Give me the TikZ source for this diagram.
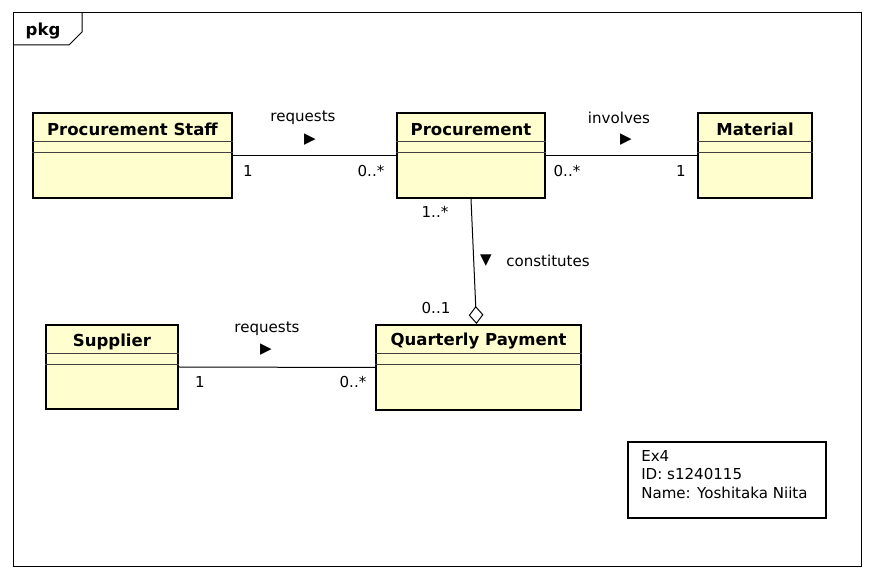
\documentclass[tikz,border=0pt]{standalone}
\usepackage{fontspec}
\setmainfont{DejaVu Sans}
\usetikzlibrary{arrows.meta,calc}
\definecolor{classfill}{HTML}{FEFECE}
\tikzset{
  x=0.75pt, y=-0.75pt,
  classbox/.style={draw=black, line width=1.5pt, fill=classfill, inner sep=0pt, rectangle},
  ctitle/.style={font=\fontsize{12.4}{14}\selectfont\bfseries, inner sep=0pt},
  lbl/.style={font=\fontsize{11.3}{13.5}\selectfont, inner sep=0pt},
  assoc/.style={draw=black, line width=0.75pt},
  divider/.style={line width=0.75pt, draw=black!75},
  notebox/.style={draw=black, line width=1.5pt, fill=white, inner sep=0pt, rectangle}
}
\newcommand{\umlclass}[6]{%
  \node[classbox, minimum width=#4*0.75pt, minimum height=#5*0.75pt] (#1) at (#2,#3) {};
  \node[ctitle] (#1-t) at ($(#1.north)+(0,17.5)$) {#6};
  \draw[divider] ($(#1.north west)+(0,29.5)$) -- ($(#1.north east)+(0,29.5)$);
  \draw[divider] ($(#1.north west)+(0,40.5)$) -- ($(#1.north east)+(0,40.5)$);
}
\begin{document}
\begin{tikzpicture}
\useasboundingbox (0,0) rectangle (874,580);
\fill[white] (0,0) rectangle (874,580);
% package frame
\draw[line width=0.75pt] (13,13) rectangle (861,566);
\draw[line width=0.75pt] (13,45) -- (69,45) -- (82,32) -- (82,13);
\node[ctitle] (pkg) at (43,31) {pkg};

% classes
\umlclass{ps}{132.5}{155.5}{199}{85}{Procurement Staff}
\umlclass{proc}{471}{155.5}{148}{85}{Procurement}
\umlclass{mat}{755}{155.5}{114}{85}{Material}
\umlclass{sup}{112}{367}{132}{84}{Supplier}
\umlclass{qp}{478.5}{367.5}{205}{85}{Quarterly Payment}

% associations
\draw[assoc] (ps.east) -- (proc.west);
\node[lbl] (l1) at (303,118) {requests};
\node[lbl] (a1) at (310,140) {▶};
\node[lbl] (m1a) at (248,171) {1};
\node[lbl] (m1b) at (371,171) {0..*};

\draw[assoc] (proc.east) -- (mat.west);
\node[lbl] (l2) at (619,118) {involves};
\node[lbl] (a2) at (626,140) {▶};
\node[lbl] (m2a) at (567,171) {0..*};
\node[lbl] (m2b) at (681,171) {1};

\draw[assoc, -{Diamond[open, length=13.5pt, width=11pt, line width=0.75pt]}] (proc.south) -- ($(qp.north)+(-2,0)$);
\node[lbl] (m3a) at (435,212) {1..*};
\node[lbl] (m3b) at (436,308) {0..1};
\node[lbl] (a3) at (486,261) {▼};
\node[lbl] (l3) at (548,261) {constitutes};

\draw[assoc] (sup.east) -- (qp.west);
\node[lbl] (l4) at (267,329) {requests};
\node[lbl] (a4) at (266,350) {▶};
\node[lbl] (m4a) at (200,382) {1};
\node[lbl] (m4b) at (353,382) {0..*};

% note
\node[notebox, minimum width=198*0.75pt, minimum height=76*0.75pt] (note) at (727,480) {};
\node[font=\fontsize{11.3}{13.9}\selectfont, inner sep=0pt, align=left, anchor=west] (notetext) at (641,474.5) {Ex4\\ID: s1240115\\Name: Yoshitaka Niita};
\end{tikzpicture}
\end{document}
